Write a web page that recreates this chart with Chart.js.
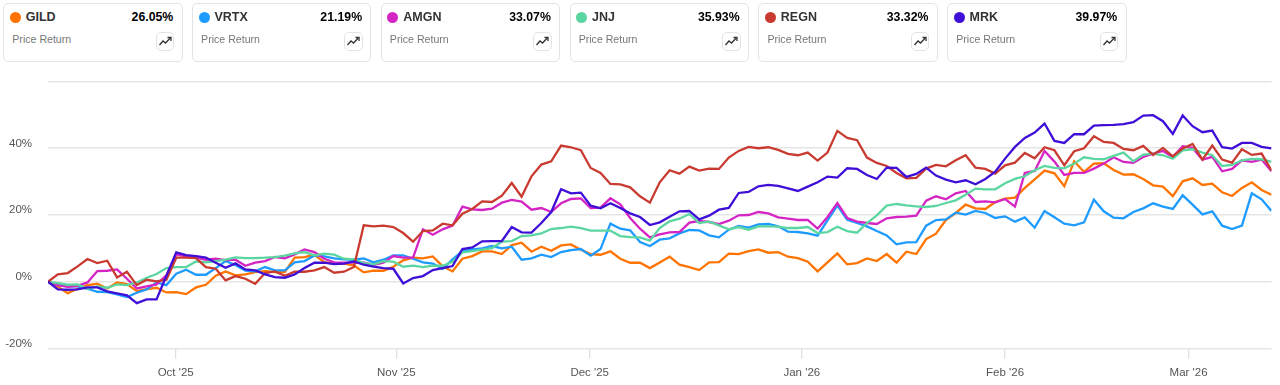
<!DOCTYPE html>
<html>
<head>
<meta charset="utf-8">
<title>Price Return</title>
<script src="https://cdn.jsdelivr.net/npm/chart.js@4"></script>
<style>
    html, body { margin: 0; padding: 0; background: #fff; width: 1280px; height: 385px; overflow: hidden; font-family: "Liberation Sans", Arial, sans-serif; }
    #cards { position: absolute; left: 3.3px; top: 3.3px; display: flex; gap: 9.4px; z-index: 2; }
    .card { position: relative; box-sizing: border-box; width: 179.4px; height: 59px; border: 1px solid #e3e3e3; border-radius: 5px; background: #fff; }
    .dot { position: absolute; left: 5.5px; top: 7.5px; width: 11px; height: 11px; border-radius: 50%; }
    .name { position: absolute; left: 21.4px; top: 6px; font-size: 12.5px; line-height: 14px; font-weight: bold; color: #333; }
    .pct { position: absolute; right: 8.4px; top: 6px; font-size: 12.3px; line-height: 14px; font-weight: bold; color: #000; }
    .lbl { position: absolute; left: 8px; top: 28px; font-size: 10.6px; line-height: 14px; color: #777; }
    .btn { position: absolute; left: 151.4px; top: 27.4px; box-sizing: border-box; width: 18.5px; height: 19px; border: 1px solid #e3e3e3; border-radius: 5px; }
    .btn svg { position: absolute; left: 2px; top: 2px; }
    #wrap { position: absolute; left: 0; top: 0; width: 1280px; height: 385px; }
    canvas { display: block; }
</style>
</head>
<body>
<div id="cards"></div>
<div id="wrap"><canvas id="returnChart" width="1280" height="385"></canvas></div>
<script>
var tickers = ['GILD', 'VRTX', 'AMGN', 'JNJ', 'REGN', 'MRK'];
var finalReturns = ['26.05%', '21.19%', '33.07%', '35.93%', '33.32%', '39.97%'];
var colors = ['#ff7300', '#1e9bff', '#d424c4', '#5cd6a0', '#c93a30', '#3f0fd8'];

var monthLabels = ["Oct '25", "Nov '25", "Dec '25", "Jan '26", "Feb '26", "Mar '26"];
var monthTicks = [12.94, 35.3, 54.9, 76.4, 97, 115.6];
var yTicks = [-20, 0, 20, 40, 60];

var gild = [
    0,-1.5,-3.4,-2.1,-1,-0.6,-2,-0.2,-0.7,-2.8,
    -2.2,-1.8,-3.2,-3.1,-3.7,-1.7,-0.9,1.8,3.1,1.9,
    2.2,2.9,3.2,2.9,2.9,7.2,7.4,8.1,5.9,5.4,
    5.4,4.9,2.8,3.3,3.3,4.5,6.4,7.2,7,
    7.6,4.6,3.1,6.9,7.7,9.1,9.1,8.3,11,11.7,
    9,10.5,9.3,10.9,11.2,9.6,8.3,8.1,9.1,6.9,
    5.7,5.7,4.1,5.8,7.5,5.1,4.4,3.5,5.8,5.9,
    8.4,8.3,9.2,9.7,8.7,8.9,7.5,7.1,6,3.1,
    5.8,8.5,5.2,
    5.6,7,6.2,8.3,5.7,9,8.3,12.8,14.4,18.5,
    20.6,23.1,22,21.8,23.9,24.9,25.2,28.1,30.7,33.3,
    32.5,28.6,36.1,32.9,35.4,35.5,33.5,32.1,32.2,30.8,
    28.9,28.5,25.6,30.1,31,29,29.4,26.8,25.7,28.1,
    29.8,27.5,26.05
];
var vrtx = [
    0,-1,-1.4,-1.4,-2.1,-3,-3.1,-3.8,-4.6,-3.3,
    -2.3,-0.2,-1,2.4,3.6,2.1,2.1,4.1,6.2,5,
    3.3,3.1,4.4,3.4,3.4,5.8,6.2,7.9,7.6,7,
    6.7,6.6,7,5.8,6.6,7.9,7.9,6.9,5.8,
    5.4,3.9,6.7,9.2,9.7,10,10.7,10,10.5,6.6,
    7,8.1,7.4,8.9,9.5,9.8,7.8,9.8,17.4,15.9,
    15.4,11.9,10.7,12.6,13,14.5,15.5,15.4,13.9,13.3,
    15.6,16.7,16.2,17.2,17.3,16.6,15,14.9,14.5,13.8,
    18.4,22.8,18.6,
    17.6,16.6,15.2,13.9,11.2,11.8,11.9,16.8,18.5,18.7,
    20.7,20.1,21.2,20.6,19.1,19.6,18,19.3,16.2,21.2,
    19.3,17.4,16.9,17.8,24.6,21.1,19.2,19,20.9,22,
    23.5,22.5,21.8,25.9,23.1,20.2,21.1,16.8,15.8,16.8,
    26.5,24.7,21.19
];
var amgn = [
    0,-1,-1.5,-1.2,-0.2,3.2,3.3,3.7,0.9,-2,
    -1.4,-0.8,1.9,8.2,7.6,7.2,6.6,6.9,6.5,6.6,
    4.8,5.7,6.2,7.4,7,8.2,9.7,8.9,6.9,5.8,
    5.7,5.8,5.7,5.1,5.7,7.7,7.2,7.2,15.7,
    14.1,15.7,16.8,22.5,21.7,21.5,21.9,23.7,24.5,24,
    21.6,22.1,20.9,23.5,24.8,25,22.1,22.2,25,23.2,
    19.1,15.9,13.3,14.2,14.8,14.9,17.7,18.2,17.9,17.3,
    18.3,19.9,20,20.9,20.5,19.3,18.9,18.5,18.5,15.9,
    19.4,23.6,19.1,
    18,17.6,17.3,19,19.4,19.5,19.8,24.3,25.6,24.7,
    26.5,27.2,23.9,24.1,23.8,24.8,22.5,32.6,33.2,39.2,
    36,32,32.6,32.6,33.9,35.4,37.3,35.9,35.6,37.4,
    38.4,39.2,37.4,40.6,40.1,36.6,37.4,33.1,33.8,36.4,
    35.9,36.6,33.07
];
var jnj = [
    0,-0.4,-0.9,-0.8,-2.1,-1.4,-1.8,-0.8,-1,-0.2,
    1.2,2.3,4.1,4.4,4.4,6.1,5.8,6.2,6.6,7.3,
    7.1,7.1,7.2,7.4,7.8,8.5,8.9,7.9,8.4,8.1,
    6.9,6.7,5.6,5.2,6.2,6,4.5,4.8,4.4,
    4.8,4.8,6,8.8,9.2,9.6,10.1,12,12.2,13.7,
    13.9,14.5,15.8,16.1,16.5,16.1,15.3,15.3,15.3,13.7,
    13.4,13.3,12.3,16.1,18.1,18.9,20.3,17.6,18,16.9,
    15.7,16.4,15.6,16.6,16.6,16.5,16.1,16.1,16.4,14.6,
    14.9,16.5,15.2,
    14.7,17.6,19.9,22.8,23.3,22.9,22.6,22.4,22.7,23.6,
    24.4,26.1,27.9,27.7,27.7,29.5,30.8,31.6,33.4,34.7,
    34.1,34,35.4,37.3,36.8,36.7,37.7,38.7,36.1,38.1,
    38.4,37.9,36.9,39.4,39.7,38.7,37.9,34.7,35,36.4,
    36.8,36.7,35.93
];
var regn = [
    0,2.2,2.6,4.6,6.8,5.6,6.3,1.3,3,-1,
    0.6,0.1,0.6,7.2,7.2,7.1,4.4,3.9,0.4,1.7,
    0.9,-0.6,2.6,3.1,1.8,3,3,3.4,4.4,2.7,
    3,4.4,16.9,16.6,16.8,16.4,14.6,12,15.2,
    15.4,17.4,16.9,20.4,21.8,24.1,23.9,25.8,29.6,25.5,
    31.6,35.1,36.1,40.8,40.3,39.4,34.1,32.6,29.3,29.2,
    28.3,25.6,23.7,29.8,33.4,32.4,34.5,33.3,33.9,33.8,
    37.2,39.2,40.4,40,40.3,39.5,38.3,37.9,38.7,36.3,
    38.7,45.2,43.1,
    42.4,37.2,35.6,34.7,32.6,31,31.1,33.9,35,34.6,
    36.4,37.9,34.2,33.8,32.4,34.9,35.7,38.6,37,40.3,
    39.4,34.9,39.1,40,43.6,41.9,41.6,39.8,39.4,40.7,
    38,40.1,37.6,39.9,41.3,36.6,40.8,36.6,35.7,39.7,
    38,38.4,33.32
];
var mrk = [
    0,-2.3,-2.4,-2.3,-1.7,-1.7,-2.9,-3.5,-4.1,-6.4,
    -5.3,-5.3,1.8,8.8,8,7.7,7.2,5.7,4.2,5.5,
    3.7,3.4,2.2,1.4,1.2,2.2,4.1,5.7,5.7,5.3,
    5.4,6.1,5.1,4.5,4.1,3.9,-0.5,1.1,1.7,
    3.5,4.1,4.7,9.8,10.3,12.1,12.2,12.2,16.4,14.8,
    14.7,17.6,20.9,27.7,26.5,26.7,22.8,22,23.5,22.1,
    20.5,19.4,17,17.8,19.5,21.1,21.2,18.7,19.8,21.6,
    22.1,26.6,26.9,28.6,29,28.7,28,27.2,28.5,29.8,
    31.5,31.2,34,
    33.8,32,30.8,34.2,34.1,31.4,32.3,34.2,31.8,30.6,
    29.8,30.4,29.2,30.8,33,36.9,40.4,43.1,44.7,47.4,
    42.2,41.6,44.2,44.2,46.8,46.9,47,47.2,47.8,49.8,
    49.9,48.1,44.3,49.8,46.6,44.8,45.3,40.3,39.9,41.6,
    41.6,40.4,39.97
];
var seriesValues = [gild, vrtx, amgn, jnj, regn, mrk];

// cards above the chart
var cardsEl = document.getElementById('cards');
tickers.forEach(function (name, i) {
    cardsEl.insertAdjacentHTML('beforeend',
        '<div class="card"><span class="dot" style="background:' + colors[i] + '"></span>' +
        '<span class="name">' + name + '</span><span class="pct">' + finalReturns[i] + '</span>' +
        '<span class="lbl">Price Return</span>' +
        '<span class="btn"><svg width="13" height="13" viewBox="0 0 13 13" fill="none" stroke="#333" stroke-width="1.3">' +
        '<path d="M0.5 10 L4 6 L6.5 8 L11.5 2.8"/><path d="M8.5 2.5 H12 V6"/></svg></span></div>');
});

document.addEventListener("DOMContentLoaded", function () {
    var ctx = document.getElementById('returnChart').getContext('2d');

    var datasets = tickers.map(function (name, i) {
        return {
            label: name,
            data: seriesValues[i],
            borderColor: colors[i],
            backgroundColor: colors[i],
            borderWidth: 2.3,
            pointRadius: 0,
            tension: 0,
            // later tickers sit on top
            order: tickers.length - i
        };
    });

    new Chart(ctx, {
        type: 'line',
        data: {
            labels: gild.map(function (v, i) { return i; }),
            datasets: datasets
        },
        options: {
            responsive: false,
            animation: false,
            maintainAspectRatio: false,
            layout: { padding: { top: 81.5, right: 8.5, left: 0, bottom: 0 } },
            plugins: { legend: { display: false }, tooltip: { enabled: false } },
            scales: {
                x: {
                    type: 'linear',
                    min: 0,
                    max: gild.length - 1,
                    afterBuildTicks: function (axis) {
                        axis.ticks = monthTicks.map(function (v) { return { value: v }; });
                    },
                    afterFit: function (axis) { axis.height = 36.5; },
                    grid: { drawOnChartArea: false, drawTicks: true, tickLength: 10, color: '#dfdfdf', lineWidth: 1.3 },
                    border: { display: false },
                    ticks: {
                        autoSkip: false,
                        maxRotation: 0,
                        padding: 7,
                        color: '#555555',
                        font: { family: '"Liberation Sans", Arial, sans-serif', size: 11.5 },
                        callback: function (value) { return monthLabels[monthTicks.indexOf(value)]; }
                    }
                },
                y: {
                    min: -20,
                    max: 60,
                    afterBuildTicks: function (axis) {
                        axis.ticks = yTicks.map(function (v) { return { value: v }; });
                    },
                    afterFit: function (axis) { axis.width = 48; },
                    grid: { drawTicks: false, color: '#e5e5e5', lineWidth: 1.6 },
                    border: { display: false },
                    ticks: {
                        padding: 16,
                        color: '#555555',
                        font: { family: '"Liberation Sans", Arial, sans-serif', size: 11.5, lineHeight: '9.5px' },
                        // empty second line lifts the label above its grid line
                        callback: function (value) { return value === 60 ? '' : [value + '%', '']; }
                    }
                }
            }
        }
    });
});
</script>
</body>
</html>
